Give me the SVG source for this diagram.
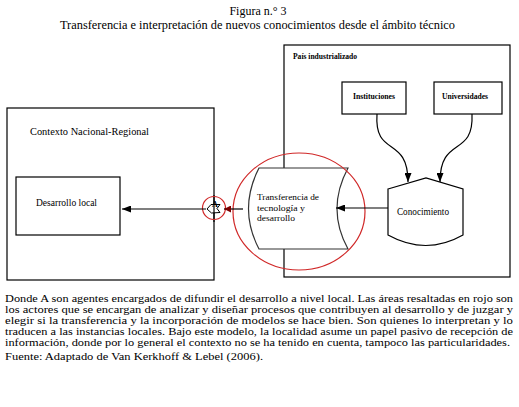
<svg xmlns="http://www.w3.org/2000/svg" width="519" height="407" viewBox="0 0 519 407">
<defs>
<marker id="arr" viewBox="0 0 10 10" refX="10" refY="5" markerWidth="9" markerHeight="7" markerUnits="userSpaceOnUse" orient="auto" preserveAspectRatio="none"><path d="M0,0 L10,5 L0,10 z" fill="#000"/></marker>
<marker id="arrR" viewBox="0 0 10 10" refX="10" refY="5" markerWidth="7" markerHeight="7" markerUnits="userSpaceOnUse" orient="auto" preserveAspectRatio="none"><path d="M0,0 L10,5 L0,10 z" fill="#7a0000"/></marker>
</defs>
<style>
.box{fill:#fff;stroke:#000;stroke-width:1.2}
.nb{fill:none;stroke:#000;stroke-width:1.2}
text{font-family:"Liberation Serif","Times New Roman",serif;fill:#000}
.s{font-size:7.5px;font-weight:bold}
.m{font-size:10px}
.c{font-size:9.2px}
.p{font-size:11px}
.red{fill:none;stroke:#d02828;stroke-width:1.2}
.conn{fill:none;stroke:#000;stroke-width:1.2}
</style>
<rect x="0" y="0" width="519" height="407" fill="#fff"/>

<g font-family="Liberation Serif, Times New Roman, serif">
<text x="258" y="15" font-size="12" text-anchor="middle">Figura n.° 3</text>
<text x="60" y="29" font-size="12" textLength="395" lengthAdjust="spacingAndGlyphs">Transferencia e interpretación de nuevos conocimientos desde el ámbito técnico</text>

<g id="contexto">
<rect class="nb" x="7" y="108" width="207" height="172"/>
<text class="m" x="30" y="135" textLength="119" lengthAdjust="spacingAndGlyphs">Contexto Nacional-Regional</text>
</g>
<g id="desarrollo-local">
<rect class="box" x="16" y="177" width="104" height="58"/>
<text class="m" x="36" y="206" textLength="61" lengthAdjust="spacingAndGlyphs">Desarrollo local</text>
</g>
<g id="pais">
<rect class="nb" x="284" y="45" width="226" height="232"/>
<text class="s" x="293" y="59" textLength="64" lengthAdjust="spacingAndGlyphs">País industrializado</text>
</g>
<g id="instituciones">
<rect class="box" x="342" y="82" width="64" height="32"/>
<text class="s" x="353" y="99" textLength="42" lengthAdjust="spacingAndGlyphs">Instituciones</text>
</g>
<g id="universidades">
<rect class="box" x="434" y="82" width="68" height="32"/>
<text class="s" x="442" y="99" textLength="46" lengthAdjust="spacingAndGlyphs">Universidades</text>
</g>
<g id="conocimiento">
<path class="box" d="M388,189 L426,178 L463,189 L463,235 Q426,256 388,235 Z"/>
<text class="m" x="397" y="215" textLength="52" lengthAdjust="spacingAndGlyphs">Conocimiento</text>
</g>
<g id="transferencia">
<path d="M259,168 L348,168 Q326,209 348,249 L259,249 Q238,209 259,168 Z" fill="#fff" stroke="#333" stroke-width="1.2"/>
<text class="c" x="257" y="200" textLength="62" lengthAdjust="spacingAndGlyphs">Transferencia de</text>
<text class="c" x="257" y="210.5" textLength="48" lengthAdjust="spacingAndGlyphs">tecnología y</text>
<text class="c" x="257" y="221" textLength="38" lengthAdjust="spacingAndGlyphs">desarrollo</text>
<ellipse class="red" cx="299" cy="211.5" rx="66" ry="58.5"/>
</g>
<g id="agente-A">
<path d="M207,209 L211,204.5 L220,204.5 L217,208.5 L220,212.5 L211.5,213 Z" fill="#fff" stroke="#000" stroke-width="1"/>
<line x1="214" y1="195" x2="214" y2="222" stroke="#000" stroke-width="1.2"/>
<text x="215" y="207" font-size="8" font-weight="bold" text-anchor="middle">A</text>
<circle class="red" cx="214" cy="208" r="11.5"/>
</g>
<g id="connectors">
<line class="conn" x1="206" y1="209" x2="122" y2="209" marker-end="url(#arr)"/>
<line x1="243" y1="209" x2="224" y2="209" stroke="#000" stroke-width="1.2" marker-end="url(#arrR)"/>
<line class="conn" x1="388" y1="208" x2="336" y2="208" marker-end="url(#arr)"/>
<path class="conn" d="M377,114 C374,158 408,135 408,182" marker-end="url(#arr)"/>
<path class="conn" d="M472,114 C474,158 440,135 440,182" marker-end="url(#arr)"/>
</g>

<g id="nota">
<text class="p" x="5" y="302" textLength="508" lengthAdjust="spacingAndGlyphs">Donde A son agentes encargados de difundir el desarrollo a nivel local. Las áreas resaltadas en rojo son</text>
<text class="p" x="5" y="313" textLength="508" lengthAdjust="spacingAndGlyphs">los actores que se encargan de analizar y diseñar procesos que contribuyen al desarrollo y de juzgar y</text>
<text class="p" x="5" y="324" textLength="508" lengthAdjust="spacingAndGlyphs">elegir si la transferencia y la incorporación de modelos se hace bien. Son quienes lo interpretan y lo</text>
<text class="p" x="5" y="335" textLength="508" lengthAdjust="spacingAndGlyphs">traducen a las instancias locales. Bajo este modelo, la localidad asume un papel pasivo de recepción de</text>
<text class="p" x="5" y="346" textLength="505" lengthAdjust="spacingAndGlyphs">información, donde por lo general el contexto no se ha tenido en cuenta, tampoco las particularidades.</text>
<text class="p" x="5" y="360" textLength="258" lengthAdjust="spacingAndGlyphs">Fuente: Adaptado de Van Kerkhoff &amp; Lebel (2006).</text>
</g>
</g>
</svg>
